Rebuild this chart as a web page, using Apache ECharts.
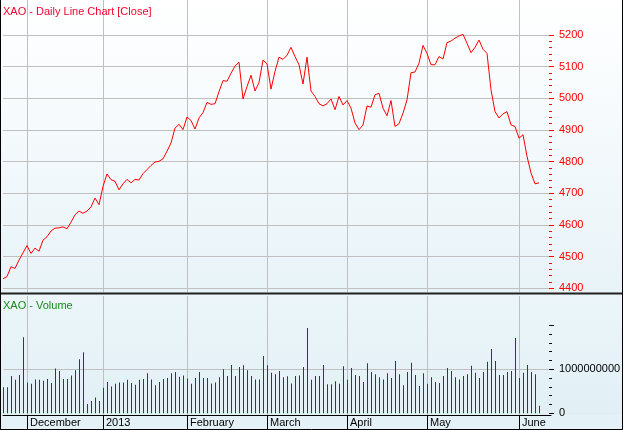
<!DOCTYPE html>
<html>
<head>
<meta charset="utf-8">
<script src="https://cdn.jsdelivr.net/npm/echarts@6/dist/echarts.min.js"></script>
<style>
html,body{margin:0;padding:0;background:#ffffff;}
#chart{width:625px;height:430px;}
</style>
</head>
<body>
<div id="chart"></div>
<script>
// ---- data ----
var firstDay = '2012-11-23';
var lastDay = '2013-06-11';
var holidays = ['2012-12-25','2012-12-26','2013-01-01','2013-01-28','2013-03-29','2013-04-01','2013-04-25','2013-06-10'];
var monthNames = ['January','February','March','April','May','June','July','August','September','October','November','December'];

var closes = [
  4430, 4437, 4468, 4463, 4489, 4512, 4535, 4510, 4527, 4517,
  4552, 4563, 4581, 4590, 4591, 4594, 4588, 4609, 4632, 4644,
  4637, 4644, 4657, 4685, 4664, 4722, 4761, 4743, 4738, 4711,
  4730, 4744, 4733, 4744, 4742, 4762, 4775, 4788, 4799, 4801,
  4809, 4833, 4859, 4906, 4918, 4901, 4941, 4930, 4903, 4938,
  4955, 4987, 4981, 4983, 5021, 5056, 5054, 5079, 5102, 5114,
  4998, 5037, 5073, 5023, 5050, 5121, 5109, 5029, 5085, 5130,
  5123, 5136, 5161, 5132, 5106, 5045, 5130, 5023, 5006, 4983,
  4976, 4983, 4998, 4964, 5006, 4979, 4993, 4969, 4922, 4901,
  4916, 4976, 4972, 5011, 5016, 4969, 4945, 4993, 4911, 4920,
  4953, 4995, 5081, 5083, 5111, 5167, 5142, 5106, 5106, 5132,
  5124, 5176, 5181, 5190, 5197, 5202, 5174, 5144, 5161, 5184,
  5155, 5142, 5027, 4958, 4938, 4951, 4958, 4916, 4911, 4874,
  4885, 4817, 4764, 4730, 4733
];

var volumesMillions = [
  590, 590, 850, 760, 870, 1730, 700, 670, 770, 760,
  740, 780, 690, 1020, 960, 780, 780, 860, 980, 1230,
  1390, 210, 280, 360, 280, 580, 710, 610, 670, 700,
  700, 760, 690, 650, 760, 780, 910, 770, 640, 710,
  780, 800, 910, 940, 830, 860, 790, 670, 800, 940,
  800, 800, 680, 700, 820, 1000, 850, 1100, 850, 1050,
  1090, 980, 850, 770, 770, 1300, 1090, 920, 890, 960,
  820, 840, 680, 850, 860, 1050, 1940, 760, 850, 850,
  1100, 660, 660, 730, 670, 1070, 760, 1030, 870, 850,
  710, 1140, 940, 890, 820, 770, 910, 800, 1190, 890,
  640, 940, 1150, 870, 620, 910, 670, 820, 710, 690,
  850, 1030, 960, 820, 770, 850, 890, 1080, 920, 800,
  940, 1170, 1460, 1190, 870, 870, 940, 960, 1710, 800,
  920, 1100, 940, 890, 170
];

var priceTicks = {min: 4400, max: 5200, step: 100};
var volumeTicks = {min: 0, max: 2000000000, step: 1000000000};

// ---- build trading-day categories ----
function pad(n){return n < 10 ? '0' + n : '' + n;}
function buildDates(){
  var out = [];
  var d = new Date(firstDay + 'T00:00:00Z');
  var end = new Date(lastDay + 'T00:00:00Z');
  while (d <= end) {
    var s = d.getUTCFullYear() + '-' + pad(d.getUTCMonth() + 1) + '-' + pad(d.getUTCDate());
    var wd = d.getUTCDay();
    if (wd !== 0 && wd !== 6 && holidays.indexOf(s) < 0) out.push(s);
    d = new Date(d.getTime() + 86400000);
  }
  return out;
}
var dates = buildDates();
var categories = dates.concat(['', '', '']);

function isMonthStart(i){
  if (i <= 0 || i >= dates.length) return false;
  return dates[i].slice(5, 7) !== dates[i - 1].slice(5, 7);
}
function monthLabel(i){
  var y = +dates[i].slice(0, 4), m = +dates[i].slice(5, 7);
  return m === 1 ? String(y) : monthNames[m - 1];
}

var volumes = volumesMillions.map(function(v){return v * 1e6;});

var FONT = '"Liberation Sans", Arial, sans-serif';
var GRID_COLOR = '#c0c0c0';

var chart = echarts.init(document.getElementById('chart'), null, {renderer: 'canvas'});

function hiddenX(gridIndex){
  return {
    type: 'category', gridIndex: gridIndex, data: categories, boundaryGap: false,
    axisLine: {show: false}, axisTick: {show: false}, axisLabel: {show: false}, splitLine: {show: false}
  };
}
function hiddenY(gridIndex){
  return {
    type: 'value', gridIndex: gridIndex, show: false, min: 0, max: 1,
    splitLine: {show: false}, axisLine: {show: false}, axisTick: {show: false}, axisLabel: {show: false}
  };
}

var option = {
  animation: false,
  backgroundColor: '#ffffff',
  textStyle: {fontFamily: FONT},
  title: [
    {text: 'XAO - Daily Line Chart [Close]', left: 3, top: 6, textStyle: {color: '#f5002d', fontSize: 11, fontWeight: 'normal', fontFamily: FONT}, padding: 0},
    {text: 'XAO - Volume', left: 3, top: 300, textStyle: {color: '#178a17', fontSize: 11, fontWeight: 'normal', fontFamily: FONT}, padding: 0}
  ],
  graphic: [
    {type: 'rect', z: -100, silent: true, shape: {x: 0, y: 0, width: 622, height: 293},
      style: {fill: new echarts.graphic.LinearGradient(0, 0, 0, 1, [{offset: 0, color: '#ffffff'}, {offset: 1, color: '#e8f3f8'}])}},
    {type: 'rect', z: -100, silent: true, shape: {x: 0, y: 294, width: 622, height: 121},
      style: {fill: new echarts.graphic.LinearGradient(0, 0, 0, 1, [{offset: 0, color: '#ecf6fa'}, {offset: 1, color: '#e1eff5'}])}},
    {type: 'rect', z: -100, silent: true, shape: {x: 0, y: 415, width: 622, height: 14},
      style: {fill: '#e4f1f6'}},
    {type: 'line', z: 100, silent: true, shape: {x1: 0, y1: 293.5, x2: 622, y2: 293.5}, style: {stroke: '#202020', lineWidth: 2}},
    {type: 'line', z: 100, silent: true, shape: {x1: 0.5, y1: 0, x2: 0.5, y2: 430}, style: {stroke: '#000000', lineWidth: 1}},
    {type: 'line', z: 100, silent: true, shape: {x1: 622.5, y1: 0, x2: 622.5, y2: 430}, style: {stroke: '#000000', lineWidth: 1}},
    {type: 'line', z: 100, silent: true, shape: {x1: 0, y1: 429.5, x2: 623, y2: 429.5}, style: {stroke: '#000000', lineWidth: 1}}
  ],
  grid: [
    {left: 3, top: 0, width: 548, height: 292},
    {left: 3, top: 35, width: 548, height: 253.3},
    {left: 3, top: 296, width: 548, height: 119},
    {left: 3.5, top: 325.3, width: 548, height: 88}
  ],
  xAxis: [
    {
      type: 'category', gridIndex: 0, data: categories, boundaryGap: false,
      axisLine: {show: false}, axisTick: {show: false}, axisLabel: {show: false},
      splitLine: {show: true, interval: function(i){return isMonthStart(i);}, lineStyle: {color: GRID_COLOR, width: 1}}
    },
    hiddenX(1),
    {
      type: 'category', gridIndex: 2, data: categories, boundaryGap: false,
      axisLine: {show: true, lineStyle: {color: '#000000', width: 1}},
      axisTick: {show: true, interval: function(i){return isMonthStart(i);}, length: 14, lineStyle: {color: '#000000'}},
      axisLabel: {
        show: true, interval: function(i){return isMonthStart(i);},
        formatter: function(v, i){return monthLabel(i);},
        align: 'left', padding: [0, 0, 0, 3], margin: 2,
        color: '#000000', fontSize: 11, fontFamily: FONT
      },
      splitLine: {show: true, interval: function(i){return isMonthStart(i);}, lineStyle: {color: GRID_COLOR, width: 1}}
    },
    hiddenX(3)
  ],
  yAxis: [
    hiddenY(0),
    {
      type: 'value', gridIndex: 1, position: 'right', offset: -2,
      min: priceTicks.min, max: priceTicks.max, interval: priceTicks.step,
      axisLine: {show: false},
      axisTick: {show: true, length: 5, lineStyle: {color: '#ff0000'}},
      minorTick: {show: true, splitNumber: 5, length: 3, lineStyle: {color: '#ff0000'}},
      axisLabel: {color: '#ff0000', fontSize: 11, fontFamily: FONT, margin: 10,
        formatter: function(v){return String(v);}},
      splitLine: {show: true, lineStyle: {color: GRID_COLOR, width: 1}}
    },
    hiddenY(2),
    {
      type: 'value', gridIndex: 3, position: 'right', offset: -2.5,
      min: volumeTicks.min, max: volumeTicks.max, interval: volumeTicks.step,
      axisLine: {show: false},
      axisTick: {show: true, length: 5, lineStyle: {color: '#000000'}},
      minorTick: {show: true, splitNumber: 5, length: 3, lineStyle: {color: '#000000'}},
      axisLabel: {color: '#000000', fontSize: 11, fontFamily: FONT, margin: 10, showMaxLabel: false,
        formatter: function(v){return v >= volumeTicks.max ? '' : String(v);}},
      splitLine: {show: true, showMinLine: false, showMaxLine: false, lineStyle: {color: GRID_COLOR, width: 1}}
    }
  ],
  series: [
    {
      type: 'line', xAxisIndex: 1, yAxisIndex: 1, data: closes,
      showSymbol: false, symbol: 'none', clip: false,
      lineStyle: {color: '#ff0000', width: 1}, z: 5
    },
    {
      type: 'bar', xAxisIndex: 3, yAxisIndex: 3, data: volumes,
      barWidth: 1, clip: false,
      itemStyle: {color: '#006000'}, z: 5
    }
  ]
};
chart.setOption(option);
</script>
</body>
</html>
